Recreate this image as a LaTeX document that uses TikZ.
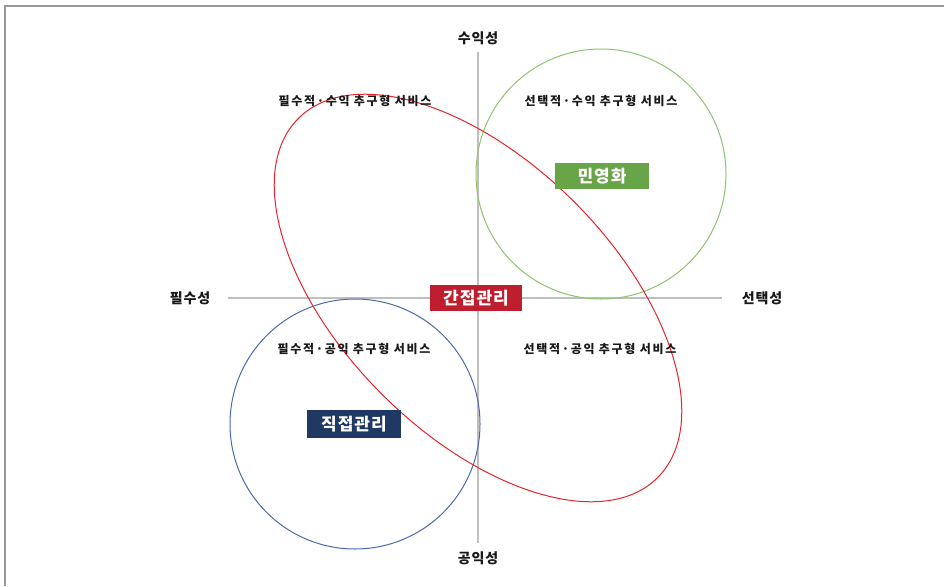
\documentclass[tikz,border=0pt]{standalone}
\usepackage{fontspec}
\setmainfont{Noto Sans CJK KR}
\newfontfamily\krsp[LetterSpace=14]{Noto Sans CJK KR}
\newfontfamily\krax[LetterSpace=6]{Noto Sans CJK KR}
\begin{document}
\begin{tikzpicture}[x=1pt,y=-1pt,
  axis/.style={draw=black!25,line width=1.3pt},
  axlabel/.style={font=\krax\fontsize{14}{16}\selectfont\bfseries,text=black!90},
  quad/.style={font=\krsp\fontsize{12}{14}\selectfont\bfseries,text=black!90},
  tag/.style={font=\krax\fontsize{17}{19}\selectfont\bfseries,text=white,minimum width=92pt,minimum height=26pt,inner sep=0pt},
]
\useasboundingbox (0,0) rectangle (944,586);
\fill[white] (0,0) rectangle (944,586);
\draw[black!40,line width=2pt] (4.5,586) -- (4.5,6.5) -- (944,6.5);
% axes
\coordinate (vt) at (478,52);
\coordinate (vb) at (478,543);
\coordinate (hl) at (228,298);
\coordinate (hr) at (722,298);
\draw[axis] (vt) -- (vb);
\draw[axis] (hl) -- (hr);
\node[axlabel] (tN) at (478,38) {수익성};
\node[axlabel] (tS) at (478,558) {공익성};
\node[axlabel] (tW) at (190,298) {필수성};
\node[axlabel] (tE) at (762,298) {선택성};
% shapes
\draw[draw={rgb,255:red,141;green,196;blue,110},line width=1pt] (601,174) circle[radius=125pt];
\draw[draw={rgb,255:red,74;green,106;blue,172},line width=1pt] (355,424) circle[radius=125pt];
\draw[draw={rgb,255:red,228;green,38;blue,44},line width=1pt] (478,298) ellipse[x radius=254pt,y radius=136pt,rotate=-45];
% quadrant labels
\node[quad] (q1) at (355,101) {필수적·수익 추구형 서비스};
\node[quad] (q2) at (601,101) {선택적·수익 추구형 서비스};
\node[quad] (q3) at (354,349) {필수적·공익 추구형 서비스};
\node[quad] (q4) at (600,349) {선택적·공익 추구형 서비스};
% tags
\node[tag,fill={rgb,255:red,190;green,30;blue,45}] (g) at (476,298) {간접관리};
\node[tag,fill={rgb,255:red,104;green,164;blue,72},minimum width=94pt] (m) at (602,176) {민영화};
\node[tag,fill={rgb,255:red,31;green,56;blue,100},minimum width=94pt,minimum height=28pt] (d) at (354,424) {직접관리};
\end{tikzpicture}
\end{document}
